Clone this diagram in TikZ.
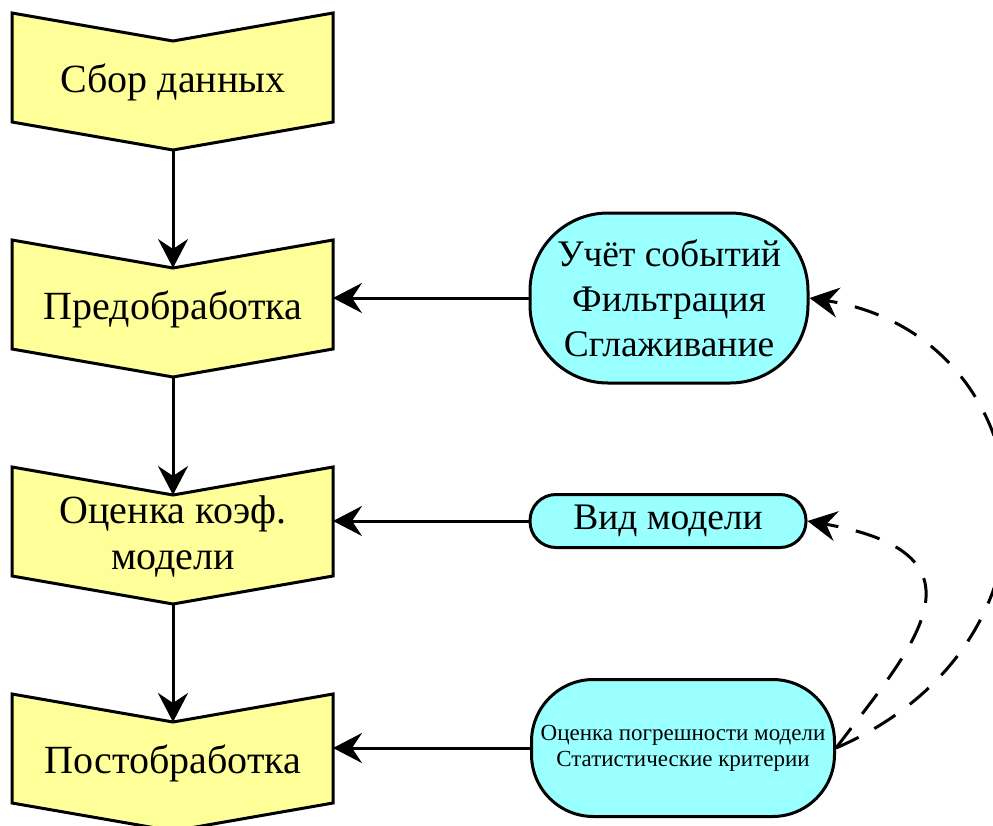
\documentclass[tikz,border=0pt]{standalone}
\usepackage{fontspec}
\setmainfont{Liberation Serif}
\usetikzlibrary{arrows.meta}
\definecolor{yfill}{HTML}{FFFF99}
\definecolor{cfill}{HTML}{99FFFF}
\tikzset{
  ybox/.style={draw=black, line width=3pt, fill=yfill, line join=miter},
  ytext/.style={inner sep=0pt, align=center, font=\fontsize{40}{46}\selectfont},
  cbox/.style={draw=black, line width=3pt, fill=cfill, inner sep=0pt, align=center},
  arr/.style={line width=3pt, -{Stealth[length=29pt, width=30pt, inset=10pt]}},
  darr/.style={line width=3pt, dash pattern=on 25pt off 18pt, -{Stealth[length=29pt, width=30pt, inset=10pt]}},
}
\newcommand{\yelbox}[4]{%
  \draw[ybox] (12,#2) -- (173,#2+28) -- (333,#2) -- (333,#2+109) -- (173,#2+137) -- (12,#2+109) -- cycle;
  \coordinate (n#1) at (173,#2+28);
  \coordinate (s#1) at (173,#2+137);
  \coordinate (r#1) at (333,#2);
  \node[ytext] (t#1) at (173,#2+69) {#3};%
}
\begin{document}
\begin{tikzpicture}[x=1pt, y=-1pt]
\useasboundingbox (0,0) rectangle (993,825);
\clip (0,0) rectangle (993,825);
\yelbox{1}{13}{Сбор данных}{}
\yelbox{2}{240}{Предобработка}{}
\yelbox{3}{467}{Оценка коэф.\\модели}{}
\yelbox{4}{694}{Постобработка}{}
\node[cbox, minimum width=278pt, minimum height=170pt, rounded corners=78pt,
      font=\fontsize{37.5}{45}\selectfont] (A) at (669,298) {Учёт событий\\Фильтрация\\Сглаживание};
\node[cbox, minimum width=276pt, minimum height=53pt, rounded corners=26pt,
      font=\fontsize{37.5}{45}\selectfont] (B) at (668,521) {Вид модели};
\node[cbox, minimum width=303pt, minimum height=137pt, rounded corners=62pt,
      font=\fontsize{23}{26}\selectfont] (C) at (683,748) {Оценка погрешности модели\\Статистические критерии};
\draw[arr] (s1) -- (n2);
\draw[arr] (s2) -- (n3);
\draw[arr] (s3) -- (n4);
\draw[arr] (A.west) -- (A.west -| r2);
\draw[arr] (B.west) -- (B.west -| r3);
\draw[arr] (C.west) -- (C.west -| r4);
\draw[darr] (C.east) .. controls (910,650) and (1000,555) .. (B.east);
\draw[darr] (C.east) .. controls (1085,640) and (1045,335) .. (A.east);
\end{tikzpicture}
\end{document}
